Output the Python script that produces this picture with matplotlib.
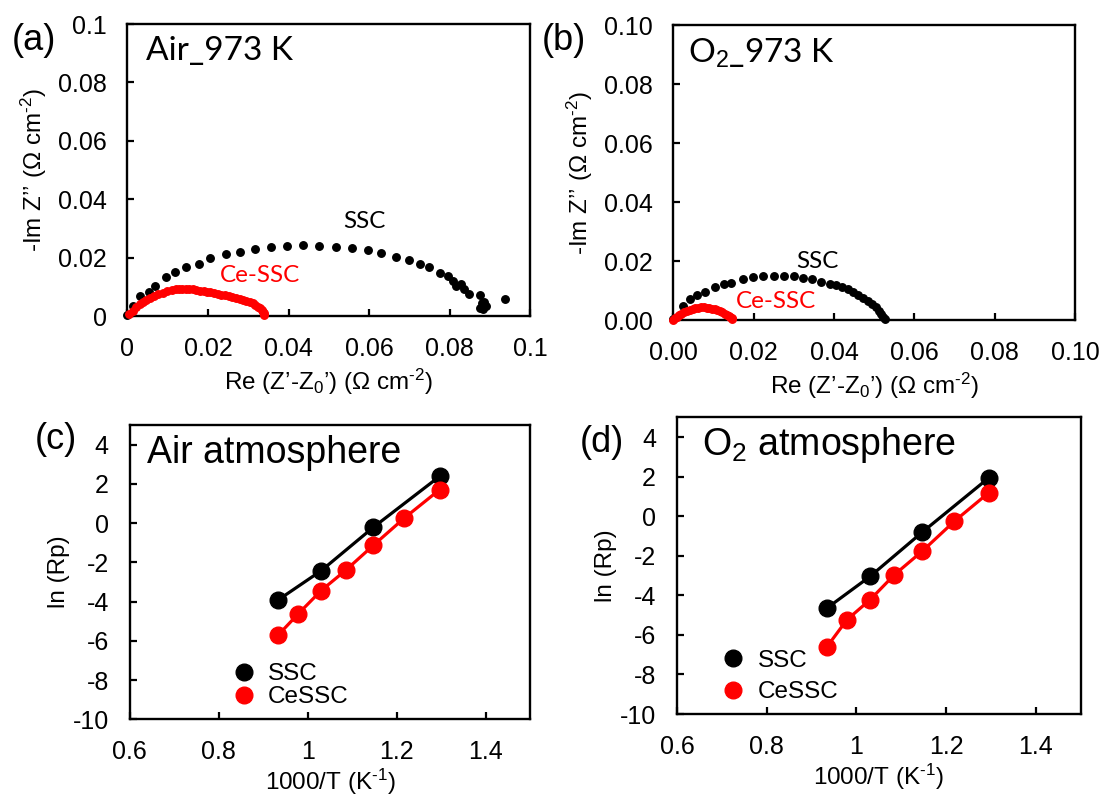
import matplotlib
matplotlib.use("Agg")
import matplotlib.pyplot as plt
from matplotlib.ticker import FixedLocator, FixedFormatter

# ---------------- data ----------------
# (a) Nyquist, air, 973 K
a_ssc_re = [0.0, 0.0013, 0.0031, 0.0054, 0.0068, 0.0096, 0.0117, 0.0145, 0.0177, 0.0206,
            0.0244, 0.0280, 0.0316, 0.0355, 0.0397, 0.0436, 0.0476, 0.0517, 0.0557, 0.0596,
            0.0630, 0.0667, 0.0698, 0.0726, 0.0749, 0.0776, 0.0796, 0.0809, 0.0816, 0.0827,
            0.0836, 0.0848, 0.0876, 0.0880, 0.0886, 0.0889, 0.0876, 0.0882, 0.0937]
a_ssc_im = [0.0003, 0.0035, 0.0068, 0.0083, 0.0103, 0.0134, 0.0150, 0.0167, 0.0177, 0.0197,
            0.0213, 0.0220, 0.0228, 0.0235, 0.0241, 0.0244, 0.0241, 0.0237, 0.0234, 0.0225,
            0.0217, 0.0203, 0.0193, 0.0177, 0.0167, 0.0146, 0.0136, 0.0120, 0.0104, 0.0110,
            0.0091, 0.0074, 0.0071, 0.0043, 0.0049, 0.0034, 0.0026, 0.0023, 0.0058]
a_ce_re = [0.0004, 0.0013, 0.0022, 0.0031, 0.0039, 0.0047, 0.0056, 0.0065, 0.0076, 0.0087,
           0.0099, 0.0111, 0.0120, 0.0127, 0.0136, 0.0145, 0.0153, 0.0162, 0.0171, 0.0180,
           0.0189, 0.0198, 0.0206, 0.0215, 0.0224, 0.0233, 0.0242, 0.0251, 0.0260, 0.0269,
           0.0278, 0.0286, 0.0295, 0.0304, 0.0311, 0.0317, 0.0323, 0.0329, 0.0333, 0.0336,
           0.0339, 0.0340]
a_ce_im = [0.0008, 0.0018, 0.0030, 0.0042, 0.0049, 0.0055, 0.0062, 0.0068, 0.0074, 0.0080,
           0.0086, 0.0090, 0.0091, 0.0092, 0.0093, 0.0094, 0.0093, 0.0091, 0.0089, 0.0087,
           0.0085, 0.0082, 0.0081, 0.0079, 0.0076, 0.0073, 0.0071, 0.0068, 0.0065, 0.0062,
           0.0059, 0.0055, 0.0051, 0.0047, 0.0043, 0.0038, 0.0032, 0.0026, 0.0020, 0.0015,
           0.0009, 0.0003]

# (b) Nyquist, O2, 973 K
b_ssc_re = [0.0, 0.0025, 0.0041, 0.0058, 0.0080, 0.0103, 0.0127, 0.0144, 0.0173, 0.0198,
            0.0223, 0.0250, 0.0275, 0.0300, 0.0323, 0.0346, 0.0368, 0.0389, 0.0404, 0.0419,
            0.0434, 0.0447, 0.0460, 0.0473, 0.0484, 0.0494, 0.0504, 0.0511, 0.0517, 0.0523,
            0.0526]
b_ssc_im = [0.0003, 0.0048, 0.0070, 0.0085, 0.0096, 0.0111, 0.0121, 0.0127, 0.0138, 0.0146,
            0.0148, 0.0149, 0.0149, 0.0148, 0.0144, 0.0138, 0.0130, 0.0123, 0.0118, 0.0111,
            0.0104, 0.0096, 0.0086, 0.0076, 0.0066, 0.0054, 0.0043, 0.0032, 0.0020, 0.0009,
            0.0002]
b_ce_re = [0.0, 0.0005, 0.0010, 0.0015, 0.0020, 0.0027, 0.0034, 0.0041, 0.0048, 0.0055,
           0.0062, 0.0069, 0.0076, 0.0083, 0.0090, 0.0097, 0.0104, 0.0110, 0.0116, 0.0122,
           0.0128, 0.0133, 0.0138, 0.0142, 0.0145, 0.0147]
b_ce_im = [0.0001, 0.0006, 0.0011, 0.0016, 0.0021, 0.0026, 0.0031, 0.0035, 0.0038, 0.0040,
           0.0042, 0.0043, 0.0043, 0.0042, 0.0041, 0.0039, 0.0036, 0.0033, 0.0030, 0.0026,
           0.0022, 0.0018, 0.0014, 0.0010, 0.0006, 0.0002]

# (c) Arrhenius, air
c_ssc_x = [0.934, 1.030, 1.147, 1.296]
c_ssc_y = [-3.91, -2.43, -0.22, 2.38]
c_ce_x = [0.934, 0.978, 1.030, 1.085, 1.147, 1.217, 1.296]
c_ce_y = [-5.70, -4.64, -3.44, -2.41, -1.14, 0.26, 1.70]

# (d) Arrhenius, O2
d_ssc_x = [0.935, 1.031, 1.147, 1.295]
d_ssc_y = [-4.64, -3.04, -0.81, 1.93]
d_ce_x = [0.935, 0.979, 1.031, 1.085, 1.147, 1.219, 1.295]
d_ce_y = [-6.59, -5.24, -4.22, -2.96, -1.77, -0.25, 1.18]

nyq_ticks = [0, 0.02, 0.04, 0.06, 0.08, 0.1]
a_ticklabels = ["0", "0.02", "0.04", "0.06", "0.08", "0.1"]
b_ticklabels = ["0.00", "0.02", "0.04", "0.06", "0.08", "0.10"]
arr_xticks = [0.6, 0.8, 1.0, 1.2, 1.4]
arr_xticklabels = ["0.6", "0.8", "1", "1.2", "1.4"]
arr_yticks = [-10, -8, -6, -4, -2, 0, 2, 4]
arr_yticklabels = ["-10", "-8", "-6", "-4", "-2", "0", "2", "4"]

# ---------------- style ----------------
plt.rcParams['font.family'] = ['Liberation Sans', 'DejaVu Sans']
plt.rcParams['mathtext.fontset'] = 'custom'
plt.rcParams['mathtext.rm'] = 'Liberation Sans'
plt.rcParams['mathtext.it'] = 'Liberation Sans'
RED = '#ff0000'
TICK_FS = 18
LAB_FS = 17.5
ANN_FONT = ['Lato', 'DejaVu Sans']

W, H = 1102, 796
fig = plt.figure(figsize=(W / 100, H / 100), dpi=100)

def rect(l, r, t, b):
    return [l / W, 1 - b / H, (r - l) / W, (b - t) / H]

axA = fig.add_axes(rect(127.5, 530.4, 24, 316))
axB = fig.add_axes(rect(673.3, 1075.1, 25.3, 320))
axC = fig.add_axes(rect(129.6, 530.4, 425, 719.3))
axD = fig.add_axes(rect(676.9, 1080.5, 417.3, 714))

def style(ax):
    for s in ax.spines.values():
        s.set_linewidth(1.7)
    ax.tick_params(direction='in', length=5, width=1.6, labelsize=TICK_FS,
                   top=False, right=False, pad=15)

for ax in (axA, axB, axC, axD):
    style(ax)

xlab_nyq = "Re (Z’-Z$_0$’) (Ω cm$^{\\text{-}2}$)"
ylab_nyq = "-Im Z’’ (Ω cm$^{\\text{-}2}$)"

# (a)
axA.plot(a_ssc_re, a_ssc_im, 'o', color='black', ms=5.4, clip_on=False, zorder=3)
axA.plot(a_ce_re, a_ce_im, 'o', color=RED, ms=5.4, clip_on=False, zorder=4)
axA.set_xlim(0, 0.1)
axA.set_ylim(0, 0.1)
axA.xaxis.set_major_locator(FixedLocator(nyq_ticks))
axA.xaxis.set_major_formatter(FixedFormatter(a_ticklabels))
axA.yaxis.set_major_locator(FixedLocator(nyq_ticks))
axA.yaxis.set_major_formatter(FixedFormatter(a_ticklabels))
axA.set_xlabel(xlab_nyq, fontsize=LAB_FS, labelpad=4)
axA.set_ylabel(ylab_nyq, fontsize=LAB_FS, labelpad=6)
axA.text(0.045, 0.909, "Air_973 K", transform=axA.transAxes, fontsize=24,
         family=ANN_FONT, va='center', ha='left')
axA.text(0.0588, 0.0322, "SSC", fontsize=17.5, family=ANN_FONT, ha='center', va='center')
axA.text(0.033, 0.0137, "Ce-SSC", fontsize=17.5, family=ANN_FONT, ha='center', va='center', color=RED)

# (b)
axB.plot(b_ssc_re, b_ssc_im, 'o', color='black', ms=5.4, clip_on=False, zorder=3)
axB.plot(b_ce_re, b_ce_im, 'o', color=RED, ms=5.4, clip_on=False, zorder=4)
axB.set_xlim(0, 0.1)
axB.set_ylim(0, 0.1)
axB.xaxis.set_major_locator(FixedLocator(nyq_ticks))
axB.xaxis.set_major_formatter(FixedFormatter(b_ticklabels))
axB.yaxis.set_major_locator(FixedLocator(nyq_ticks))
axB.yaxis.set_major_formatter(FixedFormatter(b_ticklabels))
axB.set_xlabel(xlab_nyq, fontsize=LAB_FS, labelpad=4)
axB.set_ylabel(ylab_nyq, fontsize=LAB_FS, labelpad=6)
axB.text(0.036, 0.906, "O$_2$_973 K", transform=axB.transAxes, fontsize=24,
         family=ANN_FONT, va='center', ha='left')
axB.text(0.0358, 0.0198, "SSC", fontsize=17.5, family=ANN_FONT, ha='center', va='center')
axB.text(0.0255, 0.0062, "Ce-SSC", fontsize=17.5, family=ANN_FONT, ha='center', va='center', color=RED)

# (c) and (d)
def arrhenius(ax, sx, sy, cx, cy, title, tx, ty, leg_anchor, lspacing, htp):
    ax.plot(sx, sy, '-o', color='black', lw=2.3, ms=12, label='SSC', zorder=3)
    ax.plot(cx, cy, '-o', color=RED, lw=2.3, ms=12, label='CeSSC', zorder=4)
    ax.set_xlim(0.6, 1.5)
    ax.set_ylim(-10, 5)
    ax.xaxis.set_major_locator(FixedLocator(arr_xticks))
    ax.xaxis.set_major_formatter(FixedFormatter(arr_xticklabels))
    ax.yaxis.set_major_locator(FixedLocator(arr_yticks))
    ax.yaxis.set_major_formatter(FixedFormatter(arr_yticklabels))
    ax.set_xlabel("1000/T (K$^{\\text{-}1}$)", fontsize=LAB_FS, labelpad=2)
    ax.set_ylabel("ln (Rp)", fontsize=LAB_FS, labelpad=2)
    ax.text(tx, ty, title, transform=ax.transAxes, fontsize=27, va='center', ha='left')
    leg = ax.legend(loc='center left', bbox_to_anchor=leg_anchor, frameon=False, fontsize=17.5,
                    handlelength=1.0, handletextpad=htp, borderpad=0, borderaxespad=0,
                    labelspacing=lspacing)
    for h in leg.legend_handles:
        h.set_linestyle('none')

arrhenius(axC, c_ssc_x, c_ssc_y, c_ce_x, c_ce_y, "Air atmosphere", 0.043, 0.905,
          (0.255, 0.114), 0.05, 0.49)
arrhenius(axD, d_ssc_x, d_ssc_y, d_ce_x, d_ce_y, "O$_2$ atmosphere", 0.062, 0.907,
          (0.108, 0.126), 0.4, 0.53)

# panel labels
for lbl, px, py in [("(a)", 12, 40), ("(b)", 542, 40), ("(c)", 35, 440), ("(d)", 580, 443)]:
    fig.text(px / W, 1 - py / H, lbl, fontsize=26, ha='left', va='center')

fig.savefig("out.png", dpi=100)
